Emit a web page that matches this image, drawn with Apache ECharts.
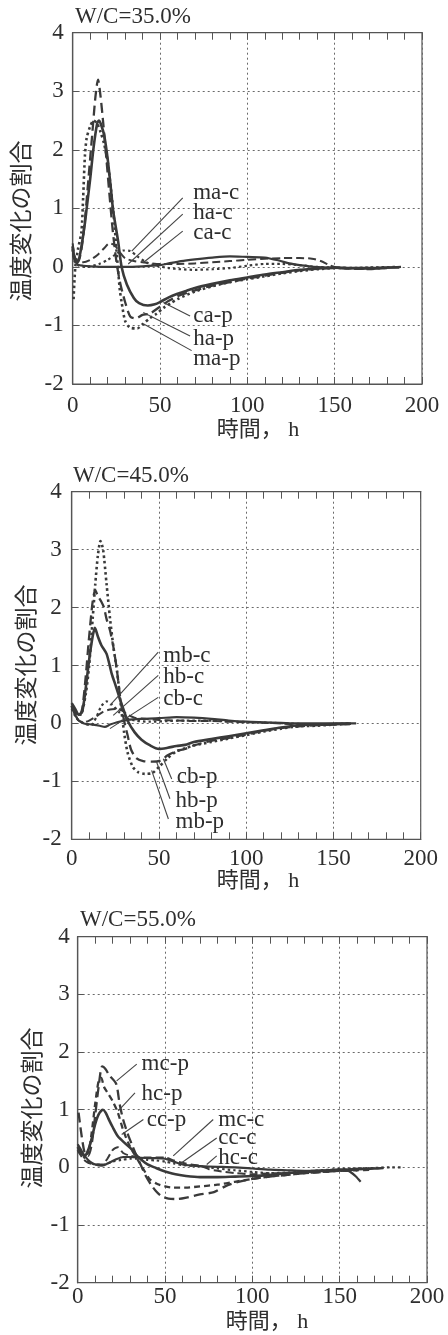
<!DOCTYPE html>
<html><head><meta charset="utf-8">
<script src="https://cdn.jsdelivr.net/npm/echarts/dist/echarts.min.js"></script>
<style>html,body{margin:0;padding:0;background:#fff}#c{width:448px;height:1335px}</style>
</head><body><div id="c"></div>
<script>
// ---------------- DATA ----------------
const panelTitles = ['W/C=35.0%', 'W/C=45.0%', 'W/C=55.0%'];
const xAxisName = '時間， h';
const yAxisName = '温度変化の割合';

// Panel 1 (W/C=35%)
const ca_p = [[0,0.35],[1,0.15],[3,0.1],[5,0.35],[7,0.75],[8,1.0],[10,1.5],[12,2.05],[14,2.45],[15,2.5],[16,2.45],[18,2.25],[20,1.85],[22,1.3],[23,1.0],[24,0.8],[26,0.44],[28,0.0],[31,-0.3],[35,-0.53],[38,-0.62],[43,-0.66],[47,-0.64],[50,-0.6],[55,-0.52],[60,-0.46],[65,-0.41],[70,-0.36],[80,-0.29],[90,-0.23],[100,-0.18],[110,-0.13],[120,-0.09],[130,-0.05],[140,-0.03],[150,-0.01],[160,-0.02],[170,-0.02],[180,-0.01],[187,-0.01]];
const ha_p = [[0,0.35],[1,0.15],[3,0.08],[5,0.3],[7,0.8],[9,1.5],[11,2.2],[13,2.9],[14.5,3.2],[16,2.9],[17.5,2.45],[19,1.95],[21,1.25],[23,0.6],[25,0.1],[27,-0.25],[30,-0.6],[33,-0.85],[36,-0.88],[40,-0.82],[44,-0.8],[50,-0.68],[55,-0.58],[60,-0.5],[70,-0.4],[80,-0.32],[90,-0.26],[100,-0.2],[110,-0.15],[120,-0.1],[130,-0.06],[140,-0.03],[150,-0.02],[160,-0.03],[170,-0.03],[180,-0.02]];
const ma_p = [[0.5,-0.55],[1.5,0.0],[3,0.3],[5,0.6],[6,1.2],[7,1.9],[8,2.2],[10,2.4],[12,2.5],[14,2.45],[16,2.3],[18,2.1],[20,1.8],[22,1.3],[24,0.7],[25,0.3],[26,-0.05],[27,-0.4],[28,-0.6],[30,-0.92],[33,-1.04],[37,-1.05],[40,-0.98],[44,-0.88],[48,-0.8],[52,-0.7],[56,-0.62],[60,-0.55],[70,-0.42],[80,-0.33],[90,-0.26],[100,-0.21],[110,-0.16],[120,-0.11],[130,-0.07],[140,-0.04],[150,-0.02],[160,-0.02],[170,-0.02],[180,-0.02]];
const ca_c = [[0,0.3],[1,0.12],[3,0.04],[6,0.02],[10,0.01],[20,0.0],[30,0.0],[40,0.01],[50,0.03],[55,0.06],[62,0.1],[70,0.13],[80,0.16],[90,0.18],[100,0.17],[110,0.16],[118,0.11],[124,0.06],[130,0.03],[138,0.0],[145,-0.01],[155,-0.02],[165,-0.03],[175,-0.02],[188,0.0]];
const ha_c = [[0,0.4],[1,0.2],[3,0.08],[6,0.08],[10,0.12],[14,0.2],[18,0.32],[21,0.4],[24,0.37],[27,0.25],[30,0.15],[35,0.1],[40,0.08],[50,0.05],[60,0.05],[70,0.06],[80,0.08],[90,0.1],[100,0.12],[110,0.14],[120,0.15],[130,0.15],[137,0.14],[142,0.1],[147,0.03],[150,0.0],[160,-0.03],[170,-0.04],[180,-0.02]];
const ma_c = [[0,0.3],[1,0.1],[3,0.03],[8,0.0],[15,0.05],[20,0.12],[25,0.22],[29,0.28],[33,0.27],[37,0.18],[42,0.08],[48,0.02],[55,-0.02],[62,-0.04],[70,-0.05],[80,-0.04],[90,-0.02],[100,0.02],[110,0.05],[120,0.05],[130,0.03],[140,0.0],[150,-0.01],[160,-0.02],[170,-0.01],[185,0.0]];

// Panel 2 (W/C=45%)
const cb_p = [[0,0.35],[2,0.25],[4,0.15],[6,0.2],[8,0.6],[10,1.1],[12,1.5],[13.3,1.65],[15,1.5],[17,1.35],[20,1.2],[23,0.85],[25,0.67],[29,0.3],[32,0.05],[36,-0.15],[40,-0.28],[45,-0.38],[50,-0.44],[55,-0.42],[60,-0.39],[65,-0.37],[70,-0.32],[80,-0.27],[90,-0.22],[100,-0.17],[110,-0.12],[120,-0.07],[130,-0.03],[140,-0.02],[150,-0.01],[160,0.0]];
const hb_p = [[0,0.3],[2,0.2],[4,0.12],[6,0.25],[8,0.8],[10,1.5],[12,2.1],[13.5,2.3],[15,2.2],[17,2.1],[18.5,2.0],[20,1.8],[22,1.6],[24,1.3],[26,0.9],[28,0.4],[30,0.05],[32,-0.2],[34,-0.45],[37,-0.6],[41,-0.65],[46,-0.66],[51,-0.64],[55,-0.55],[60,-0.48],[65,-0.44],[70,-0.38],[80,-0.3],[90,-0.25],[100,-0.19],[110,-0.13],[120,-0.08],[130,-0.05],[140,-0.03],[150,-0.02],[160,-0.01]];
const mb_p = [[0,0.3],[2,0.2],[5,0.15],[8,0.5],[10,1.0],[12,1.8],[13.5,2.4],[15,2.9],[16.5,3.15],[18,3.0],[20,2.4],[22,1.8],[24,1.3],[26,0.9],[28,0.35],[30,-0.15],[32,-0.5],[35,-0.75],[38,-0.84],[42,-0.87],[46,-0.86],[50,-0.75],[55,-0.6],[60,-0.48],[65,-0.43],[70,-0.38],[80,-0.32],[90,-0.26],[100,-0.2],[110,-0.14],[120,-0.09],[130,-0.05],[140,-0.04],[150,-0.02],[160,0.0]];
const cb_c = [[0,0.3],[2,0.15],[4,0.05],[7,0.0],[12,-0.02],[16,-0.04],[19,-0.06],[22,-0.02],[26,0.02],[30,0.05],[35,0.07],[40,0.08],[50,0.09],[60,0.11],[70,0.1],[80,0.08],[90,0.05],[100,0.03],[110,0.02],[120,0.01],[130,0.0],[140,0.0],[150,0.0],[163,0.0]];
const hb_c = [[0,0.3],[2,0.15],[4,0.05],[7,0.02],[10,0.05],[14,0.12],[18,0.2],[22,0.24],[26,0.25],[29,0.22],[32,0.15],[36,0.1],[42,0.08],[50,0.06],[60,0.05],[70,0.04],[80,0.04],[90,0.03],[100,0.02],[110,0.01],[120,0.0],[130,-0.02],[140,-0.03],[150,-0.02],[160,-0.01]];
const mb_c = [[0,0.25],[3,0.08],[7,0.0],[11,-0.03],[14,0.1],[17,0.3],[20,0.38],[23,0.33],[27,0.2],[31,0.1],[36,0.05],[45,0.03],[55,0.04],[65,0.05],[75,0.05],[85,0.04],[95,0.03],[105,0.02],[115,0.01],[125,0.0],[140,-0.02],[150,-0.01],[160,0.0]];

// Panel 3 (W/C=55%)
const cc_p = [[0,0.35],[2,0.25],[4,0.2],[6,0.3],[8,0.5],[10,0.75],[12,0.92],[14.5,1.0],[16,0.95],[18,0.82],[20,0.7],[23,0.54],[27,0.42],[31,0.31],[34,0.2],[37,0.12],[40,0.05],[44,0.0],[48,-0.05],[52,-0.09],[56,-0.12],[62,-0.15],[70,-0.17],[80,-0.17],[90,-0.16],[100,-0.15],[110,-0.13],[120,-0.1],[130,-0.08],[140,-0.06],[150,-0.04],[160,-0.03],[170,-0.02],[175,-0.01]];
const hc_p = [[0,0.3],[3,0.2],[6,0.25],[8,0.6],[10,1.1],[12,1.5],[13.5,1.55],[15,1.4],[17,1.3],[20,1.15],[23,0.95],[26,0.65],[29,0.42],[32,0.25],[35,0.1],[38,-0.05],[41,-0.2],[45,-0.28],[50,-0.33],[55,-0.35],[62,-0.35],[70,-0.33],[80,-0.3],[90,-0.25],[100,-0.2],[110,-0.16],[120,-0.13],[130,-0.1],[140,-0.08],[150,-0.06],[160,-0.05],[168,-0.04]];
const mc_p = [[0.5,0.95],[2,0.6],[4,0.25],[6,0.2],[8,0.4],[10,0.9],[12,1.4],[14,1.75],[16,1.7],[18,1.6],[22,1.45],[24,1.1],[26,0.83],[29,0.55],[31,0.4],[33,0.25],[36,0.05],[39,-0.15],[42,-0.3],[45,-0.42],[48,-0.5],[52,-0.54],[57,-0.55],[63,-0.52],[70,-0.47],[78,-0.43],[85,-0.32],[92,-0.25],[100,-0.2],[110,-0.16],[120,-0.13],[130,-0.1],[140,-0.08],[150,-0.06],[160,-0.05]];
const cc_c = [[0,0.4],[2,0.3],[4,0.2],[7,0.1],[10,0.05],[14,0.03],[18,0.08],[22,0.14],[26,0.18],[30,0.18],[35,0.17],[40,0.16],[45,0.16],[50,0.15],[55,0.1],[60,0.05],[65,0.03],[70,0.02],[80,0.01],[90,0.0],[100,-0.02],[110,-0.04],[120,-0.05],[130,-0.06],[140,-0.05],[150,-0.05],[155,-0.06],[159,-0.15],[162,-0.25]];
const mc_c = [[0,0.3],[3,0.15],[6,0.08],[10,0.05],[14,0.05],[17,0.15],[20,0.3],[23,0.35],[26,0.25],[30,0.2],[35,0.18],[40,0.17],[45,0.17],[50,0.17],[55,0.12],[60,0.08],[65,0.05],[70,0.03],[75,-0.03],[80,-0.06],[90,-0.1],[100,-0.12],[110,-0.1],[120,-0.1],[130,-0.08],[140,-0.07],[150,-0.06],[160,-0.04]];
const hc_c = [[0,0.35],[3,0.2],[6,0.1],[10,0.05],[15,0.05],[20,0.1],[25,0.13],[30,0.15],[35,0.15],[40,0.13],[45,0.12],[50,0.1],[55,0.07],[60,0.04],[70,0.02],[80,-0.02],[90,-0.05],[100,-0.08],[110,-0.1],[120,-0.09],[130,-0.07],[140,-0.05],[150,-0.03],[160,-0.02],[170,-0.01],[180,0.0],[185,0.0]];

// Annotation labels: [text, labelX, labelY, leaderFromX, leaderFromY, leaderToX, leaderToY] (data units)
const notes1 = [['ma-c',69,1.26,63,1.18,33.8,0.27],['ha-c',69,0.92,63,0.9,31.8,0.05],['ca-c',69,0.58,63,0.61,40.3,0.07],
  ['ca-p',69,-0.84,51.9,-0.61,67.2,-0.84],['ha-p',69,-1.23,40.4,-0.78,67.2,-1.18],['ma-p',69,-1.57,40.4,-0.97,68.1,-1.43]];
const notes2 = [['mb-c',52.5,1.17,49.6,1.23,21.9,0.31],['hb-c',52.5,0.8,49.6,0.83,23.8,0.14],['cb-c',52.5,0.43,49.6,0.45,21.9,-0.09],
  ['cb-p',60.2,-0.93,52.5,-0.61,57.3,-0.96],['hb-p',59.5,-1.33,48.7,-0.67,56.3,-1.3],['mb-p',59.5,-1.7,45.8,-0.81,55.4,-1.65]];
const notes3 = [['mc-p',36.6,1.79,33.8,1.79,22.3,1.5],['hc-p',36.6,1.27,32.8,1.29,23.2,0.98],['cc-p',39.5,0.83,37.6,0.83,25.2,0.57],
  ['mc-c',80.5,0.83,77.6,0.83,54.7,0.2],['cc-c',80.5,0.51,79.6,0.51,59.5,0.08],['hc-c',80.5,0.17,79.6,0.2,73.9,0.05]];

// ---------------- STYLE / LAYOUT ----------------
const INK = '#3a3a3a', TXT = '#2e2e2e';
const FONT = '"Liberation Serif","Times New Roman","Noto Sans CJK JP",serif';
const S = {
  solid:  {type:'solid', width:2.6},
  dashL:  {type:[10,5], width:2.3},
  dashS:  {type:[6,4], width:2.3},
  dot:    {type:[2.5,3], width:2.6},
  thinSolid: {type:'solid', width:2.2},
  thinDash:  {type:[8,4], width:2.0},
  thinDot:   {type:[2.5,3], width:2.2}
};
const panels = [
  {grid:{left:72.7, top:32.7, width:349.3, height:351.3}, xm:10, ym:9,
   title:[75,18], yname:[23,221], xname:[258,430],
   series:[[ca_p,S.solid],[ha_p,S.dashL],[ma_p,S.dot],[ca_c,S.thinSolid],[ha_c,S.thinDash],[ma_c,S.thinDot]], notes:notes1},
  {grid:{left:71.7, top:491.7, width:349, height:347.6}, xm:8, ym:10,
   title:[73,477], yname:[28,665], xname:[258,881],
   series:[[cb_p,S.solid],[hb_p,S.dashL],[mb_p,S.dot],[cb_c,S.thinSolid],[hb_c,S.thinDash],[mb_c,S.thinDot]], notes:notes2},
  {grid:{left:77.7, top:936.7, width:349.3, height:346}, xm:3, ym:8,
   title:[80,921], yname:[34,1108], xname:[267,1322],
   series:[[cc_p,S.solid],[hc_p,S.dashS],[mc_p,S.dashL],[cc_c,S.thinSolid],[mc_c,S.thinDash],[hc_c,S.thinDot]], notes:notes3}
];

// ---------------- BUILD ----------------
const grid = [], xAxis = [], yAxis = [], series = [], graphic = [];
panels.forEach((p, i) => {
  grid.push(Object.assign({show:true, borderColor:'#555', borderWidth:1.2, backgroundColor:'#fff'}, p.grid));
  const split = {show:true, lineStyle:{type:[2,3], color:'#6a6a6a', width:1}};
  xAxis.push({gridIndex:i, type:'value', min:0, max:200, interval:50,
    axisLine:{show:true, onZero:false, lineStyle:{color:'#555', width:1.2}},
    axisTick:{inside:true, length:7, lineStyle:{color:'#555'}},
    minorTick:{show:true, splitNumber:5, length:7, lineStyle:{color:'#555'}},
    splitLine:split,
    axisLabel:{margin:p.xm, color:TXT, fontFamily:FONT, fontSize:23}});
  xAxis.push({gridIndex:i, type:'value', min:0, max:200, interval:50, position:'top',
    axisLine:{show:true, onZero:false, lineStyle:{color:'#555', width:1.2}},
    axisTick:{inside:true, length:7, lineStyle:{color:'#555'}},
    minorTick:{show:true, splitNumber:5, length:7, lineStyle:{color:'#555'}},
    splitLine:{show:false}, axisLabel:{show:false}});
  yAxis.push({gridIndex:i, type:'value', min:-2, max:4, interval:1,
    axisLine:{show:true, onZero:false, lineStyle:{color:'#555', width:1.2}},
    axisTick:{inside:true, length:6, lineStyle:{color:'#555'}},
    splitLine:split,
    axisLabel:{margin:p.ym, color:TXT, fontFamily:FONT, fontSize:23}});
  p.series.forEach(([d, ls]) => {
    series.push({type:'line', xAxisIndex:i*2, yAxisIndex:i, data:d, showSymbol:false, symbol:'none',
      smooth:0.25, lineStyle:Object.assign({color:INK, cap:'butt', join:'round'}, ls), silent:true, z:3});
  });
  series.push({type:'scatter', xAxisIndex:i*2, yAxisIndex:i, symbolSize:0, silent:true, z:5,
    itemStyle:{opacity:1, color:TXT},
    data:p.notes.map(n => [n[1], n[2], n[0]]),
    label:{show:true, position:'right', distance:0, opacity:1, formatter:o => o.value[2], color:TXT, fontFamily:FONT, fontSize:23},
    markLine:{silent:true, symbol:['none','none'], label:{show:false}, animation:false,
      lineStyle:{type:'solid', color:'#444', width:1.1, opacity:1},
      data:p.notes.map(n => [{coord:[n[3], n[4]]}, {coord:[n[5], n[6]]}])}});
  graphic.push({type:'text', left:p.title[0], top:p.title[1]-13, style:{text:panelTitles[i], fill:TXT, font:'23px ' + FONT}});
  graphic.push({type:'text', x:p.yname[0], y:p.yname[1], rotation:Math.PI/2,
    style:{text:yAxisName, fill:TXT, font:'23px ' + FONT, textAlign:'center', textVerticalAlign:'middle'}});
  graphic.push({type:'text', x:p.xname[0], y:p.xname[1],
    style:{text:xAxisName, fill:TXT, font:'22px ' + FONT, textAlign:'center', textVerticalAlign:'middle'}});
});

const chart = echarts.init(document.getElementById('c'), null, {renderer:'canvas'});
chart.setOption({animation:false, backgroundColor:'#fff', grid, xAxis, yAxis, series, graphic});
</script></body></html>
